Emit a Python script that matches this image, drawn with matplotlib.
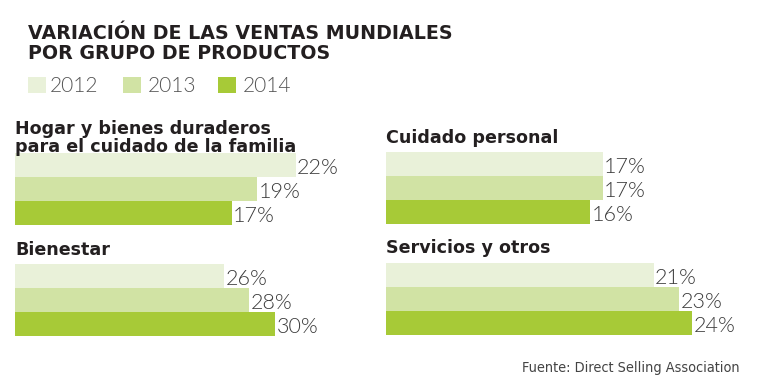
import matplotlib
matplotlib.use("Agg")
import matplotlib.pyplot as plt
from matplotlib.patches import Rectangle
from matplotlib import font_manager

# ---------------- data ----------------
years = ["2012", "2013", "2014"]
panel_titles = ["Hogar y bienes duraderos\npara el cuidado de la familia",
                "Cuidado personal", "Bienestar", "Servicios y otros"]
hogar = [22, 19, 17]
cuidado = [17, 17, 16]
bienestar = [26, 28, 30]
servicios = [21, 23, 24]
title_lines = ["VARIACIÓN DE LAS VENTAS MUNDIALES", "POR GRUPO DE PRODUCTOS"]
source = "Fuente: Direct Selling Association"

colors = ["#e9f1d9", "#d1e3a4", "#a7ca37"]
label_color = "#3c3c3c"
dark = "#231f20"

W, H = 760, 386
fig = plt.figure(figsize=(W / 100, H / 100), dpi=100)
fig.patch.set_facecolor("white")


def fx(x):
    return x / W


def fy(y):
    return 1 - y / H


entries = font_manager.fontManager.ttflist
names = {f.name for f in entries}

# light label font
label_kw = dict(family="DejaVu Sans", fontweight="normal")
if "Lato" in names:
    lato_w = {f.weight for f in entries if f.name == "Lato"}
    if 300 in lato_w or "light" in lato_w:
        label_kw = dict(family="Lato", fontweight=300)
    else:
        label_kw = dict(family="Lato", fontweight="normal")

# condensed font for source
src_kw = dict(family="DejaVu Sans", fontsize=9.2)
if "Liberation Sans Narrow" in names:
    src_kw = dict(family="Liberation Sans Narrow", fontsize=12)
elif any(f.name == "DejaVu Sans" and f.stretch == "condensed" for f in entries):
    src_kw = dict(family="DejaVu Sans", fontstretch="condensed", fontsize=10.4)

TITLE_FS = 13.7
PT_FS = 12.6

# title
fig.text(fx(28), fy(39), title_lines[0], fontsize=TITLE_FS, fontweight="bold",
         color=dark, family="DejaVu Sans", va="baseline")
fig.text(fx(28), fy(59), title_lines[1], fontsize=TITLE_FS, fontweight="bold",
         color=dark, family="DejaVu Sans", va="baseline")

# legend
leg_sq_x = [28, 123, 218]
leg_tx_x = [50, 148, 243]
for i, yr in enumerate(years):
    fig.add_artist(Rectangle((fx(leg_sq_x[i]), fy(93)), 18 / W, 16 / H,
                             transform=fig.transFigure, facecolor=colors[i],
                             edgecolor="none"))
    fig.text(fx(leg_tx_x[i]), fy(92), yr, fontsize=15, color="#555555",
             va="baseline", **label_kw)

PX_PER_UNIT = 12.75
AX_W = 340


def panel(x0, ytop, vals, xmin, title, title_y):
    ax = fig.add_axes([fx(x0), fy(ytop + 72), AX_W / W, 72 / H])
    ax.set_xlim(xmin, xmin + AX_W / PX_PER_UNIT)
    ax.set_ylim(2.5, -0.5)
    ax.axis("off")
    ax.barh(range(3), vals, height=1.0, color=colors, edgecolor="none")
    for i, v in enumerate(vals):
        ax.text(v + 0.12, i + 0.38, f"{v}%", fontsize=15.5, color=label_color,
                va="baseline", ha="left", clip_on=False, **label_kw)
    fig.text(fx(x0), fy(title_y), title, fontsize=PT_FS, fontweight="bold",
             color=dark, family="DejaVu Sans", va="baseline")
    return ax


panel(15, 153, hogar, 0, panel_titles[0].split("\n")[0], 134)
fig.text(fx(15), fy(152), panel_titles[0].split("\n")[1], fontsize=PT_FS,
         fontweight="bold", color=dark, family="DejaVu Sans", va="baseline")
panel(386, 152, cuidado, 0, panel_titles[1], 143)
panel(15, 264, bienestar, 9.62, panel_titles[2], 255)
panel(386, 263, servicios, 0, panel_titles[3], 253)

fig.text(fx(740), fy(372), source, color="#444444", va="baseline", ha="right",
         **src_kw)

fig.savefig("out.png", dpi=100, facecolor="white")
